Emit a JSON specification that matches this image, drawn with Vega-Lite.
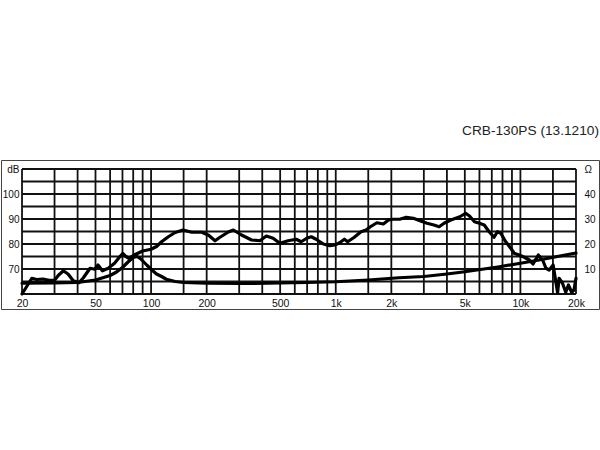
{
  "$schema": "https://vega.github.io/schema/vega-lite/v6.json",
  "width": 598,
  "height": 149,
  "autosize": "none",
  "padding": {"left": 1, "top": 160, "right": 1, "bottom": 141},
  "background": "white",
  "config": {
    "view": {"stroke": "#444", "strokeWidth": 1},
    "font": "Liberation Sans"
  },
  "title": {
    "text": "CRB-130PS (13.1210)",
    "anchor": "end",
    "frame": "group",
    "font": "Liberation Sans",
    "fontSize": 13.7,
    "fontWeight": "normal",
    "color": "#222",
    "baseline": "alphabetic",
    "offset": 11
  },
  "datasets": {
    "vgrid": [
      {"f": 20}, {"f": 30}, {"f": 40}, {"f": 50}, {"f": 60}, {"f": 70}, {"f": 80}, {"f": 90},
      {"f": 100}, {"f": 150}, {"f": 200}, {"f": 300}, {"f": 400}, {"f": 500}, {"f": 600}, {"f": 700}, {"f": 800}, {"f": 900},
      {"f": 1000}, {"f": 1500}, {"f": 2000}, {"f": 3000}, {"f": 4000}, {"f": 5000}, {"f": 6000}, {"f": 7000}, {"f": 8000}, {"f": 9000},
      {"f": 10000}, {"f": 15000}, {"f": 20000}
    ],
    "hgrid": [
      {"db": 60}, {"db": 65}, {"db": 70}, {"db": 75}, {"db": 80}, {"db": 85},
      {"db": 90}, {"db": 95}, {"db": 100}, {"db": 105}, {"db": 110}
    ],
    "spl": [
      {"f": 20, "db": 60}, {"f": 21, "db": 62.5}, {"f": 22.6, "db": 66.3}, {"f": 24, "db": 65.8},
      {"f": 26, "db": 66}, {"f": 28, "db": 65.5}, {"f": 30, "db": 65.5}, {"f": 31.5, "db": 67.5},
      {"f": 33.5, "db": 69.3}, {"f": 35.5, "db": 68}, {"f": 37.9, "db": 65.3}, {"f": 40.7, "db": 64.5},
      {"f": 43, "db": 66.5}, {"f": 46.7, "db": 70.3}, {"f": 49.6, "db": 69.9}, {"f": 51.6, "db": 71.6},
      {"f": 54.5, "db": 69.3}, {"f": 58.6, "db": 70.3}, {"f": 63.4, "db": 72.3}, {"f": 67, "db": 74.5},
      {"f": 70.2, "db": 76.2}, {"f": 73, "db": 75}, {"f": 75.8, "db": 74.3}, {"f": 81, "db": 75.6},
      {"f": 90, "db": 77.2}, {"f": 100, "db": 77.9}, {"f": 107, "db": 79}, {"f": 114, "db": 80.9},
      {"f": 124, "db": 82.9}, {"f": 135, "db": 84.6}, {"f": 149, "db": 85.6}, {"f": 166, "db": 84.7},
      {"f": 188, "db": 84.7}, {"f": 205, "db": 83.5}, {"f": 222, "db": 81.3}, {"f": 235, "db": 82.6},
      {"f": 262, "db": 84.8}, {"f": 279, "db": 85.6}, {"f": 309, "db": 83.6}, {"f": 350, "db": 81.6},
      {"f": 388, "db": 81.3}, {"f": 421, "db": 83.2}, {"f": 458, "db": 82.3}, {"f": 498, "db": 80.3},
      {"f": 552, "db": 81.3}, {"f": 611, "db": 81.9}, {"f": 650, "db": 80.9}, {"f": 696, "db": 82.3},
      {"f": 737, "db": 82.9}, {"f": 783, "db": 81.9}, {"f": 857, "db": 80}, {"f": 929, "db": 79.3},
      {"f": 988, "db": 79.6}, {"f": 1050, "db": 80.5}, {"f": 1114, "db": 81.9}, {"f": 1160, "db": 80.9},
      {"f": 1260, "db": 82.7}, {"f": 1370, "db": 84.9}, {"f": 1460, "db": 85.6}, {"f": 1540, "db": 86.9},
      {"f": 1670, "db": 88.5}, {"f": 1810, "db": 88}, {"f": 1930, "db": 89.6}, {"f": 2030, "db": 89.9},
      {"f": 2220, "db": 89.9}, {"f": 2410, "db": 90.7}, {"f": 2630, "db": 90.3}, {"f": 2860, "db": 89.3},
      {"f": 3120, "db": 88.3}, {"f": 3400, "db": 87.6}, {"f": 3630, "db": 86.9}, {"f": 3860, "db": 88.3},
      {"f": 4200, "db": 89.6}, {"f": 4700, "db": 90.9}, {"f": 5050, "db": 92.3}, {"f": 5300, "db": 91.2},
      {"f": 5640, "db": 88.9}, {"f": 6000, "db": 88.3}, {"f": 6370, "db": 87.6}, {"f": 6770, "db": 84.9},
      {"f": 7200, "db": 82.7}, {"f": 7510, "db": 84.9}, {"f": 7830, "db": 84.3}, {"f": 8330, "db": 80.9},
      {"f": 8870, "db": 78.3}, {"f": 9250, "db": 76.3}, {"f": 9850, "db": 75.6}, {"f": 10500, "db": 74.7},
      {"f": 11180, "db": 73.6}, {"f": 11700, "db": 72}, {"f": 12500, "db": 75.6}, {"f": 13200, "db": 73.6},
      {"f": 13750, "db": 70.3}, {"f": 14320, "db": 69.6}, {"f": 15040, "db": 71.6}, {"f": 15900, "db": 60.5},
      {"f": 16200, "db": 66.3}, {"f": 16900, "db": 64.3}, {"f": 17600, "db": 60.7}, {"f": 18200, "db": 63.6},
      {"f": 18950, "db": 60.7}, {"f": 19500, "db": 61.6}, {"f": 20000, "db": 66.3}
    ],
    "imp": [
      {"f": 20, "ohm": 4.3}, {"f": 30, "ohm": 4.4}, {"f": 40, "ohm": 4.6}, {"f": 50, "ohm": 5.6},
      {"f": 60, "ohm": 7.4}, {"f": 65, "ohm": 8.8}, {"f": 70, "ohm": 10.6}, {"f": 75, "ohm": 12.8},
      {"f": 80, "ohm": 14.6}, {"f": 84, "ohm": 15}, {"f": 88, "ohm": 14}, {"f": 95, "ohm": 11.5},
      {"f": 101, "ohm": 9.6}, {"f": 107, "ohm": 8}, {"f": 114, "ohm": 7}, {"f": 121, "ohm": 5.9},
      {"f": 135, "ohm": 5}, {"f": 150, "ohm": 4.6}, {"f": 200, "ohm": 4.3}, {"f": 300, "ohm": 4.2},
      {"f": 500, "ohm": 4.4}, {"f": 700, "ohm": 4.6}, {"f": 1000, "ohm": 4.9}, {"f": 1500, "ohm": 5.6},
      {"f": 2200, "ohm": 6.5}, {"f": 3000, "ohm": 7.0}, {"f": 4000, "ohm": 8}, {"f": 5000, "ohm": 8.9},
      {"f": 7700, "ohm": 10.9}, {"f": 10000, "ohm": 12.3}, {"f": 12000, "ohm": 13.3}, {"f": 20000, "ohm": 16.4}
    ]
  },
  "layer": [
    {
      "data": {"name": "vgrid"},
      "mark": {"type": "rule", "color": "#111", "strokeWidth": 1.8},
      "encoding": {
        "x": {"field": "f", "type": "quantitative", "scale": {"type": "log", "domain": [15.39, 26646], "nice": false}},
        "y": {"datum": 60, "type": "quantitative", "scale": {"domain": [54, 113.6], "nice": false, "zero": false}, "axis": null},
        "y2": {"datum": 110}
      }
    },
    {
      "data": {"name": "hgrid"},
      "mark": {"type": "rule", "color": "#111", "strokeWidth": 1.8},
      "encoding": {
        "y": {"field": "db", "type": "quantitative", "scale": {"domain": [54, 113.6], "nice": false, "zero": false}, "axis": null},
        "x": {"datum": 20, "type": "quantitative", "scale": {"type": "log", "domain": [15.39, 26646], "nice": false}},
        "x2": {"datum": 20000}
      }
    },
    {
      "data": {"name": "spl"},
      "mark": {"type": "line", "color": "#000", "strokeWidth": 3.2, "strokeJoin": "round", "strokeCap": "round"},
      "encoding": {
        "x": {
          "field": "f", "type": "quantitative",
          "scale": {"type": "log", "domain": [15.39, 26646], "nice": false},
          "axis": {
            "orient": "bottom", "title": null, "grid": false, "domain": false, "ticks": false, "tickSize": 0,
            "values": [20, 50, 100, 200, 500, 1000, 2000, 5000, 10000, 20000],
            "labelExpr": "datum.value >= 1000 ? (datum.value / 1000) + 'k' : datum.value",
            "offset": -6, "labelPadding": 0, "labelBaseline": "middle",
            "labelFont": "Liberation Sans", "labelFontSize": 10.5, "labelColor": "#111",
            "labelFlush": false, "labelOverlap": false, "labelBound": false
          }
        },
        "y": {
          "field": "db", "type": "quantitative",
          "scale": {"domain": [54, 113.6], "nice": false, "zero": false},
          "axis": {
            "orient": "left", "title": null, "grid": false, "domain": false, "ticks": false, "tickSize": 0,
            "values": [70, 80, 90, 100, 110],
            "labelExpr": "datum.value == 110 ? 'dB' : datum.value",
            "offset": -18, "labelPadding": 0, "labelBaseline": "middle",
            "labelFont": "Liberation Sans", "labelFontSize": 10, "labelColor": "#111",
            "labelFlush": false, "labelOverlap": false, "labelBound": false
          }
        }
      }
    },
    {
      "data": {"name": "imp"},
      "mark": {"type": "line", "color": "#000", "strokeWidth": 3.2, "strokeJoin": "round", "strokeCap": "round"},
      "encoding": {
        "x": {"field": "f", "type": "quantitative", "scale": {"type": "log", "domain": [15.39, 26646], "nice": false}},
        "y": {
          "field": "ohm", "type": "quantitative",
          "scale": {"domain": [-6, 53.6], "nice": false, "zero": false},
          "axis": {
            "orient": "right", "title": null, "grid": false, "domain": false, "ticks": false, "tickSize": 0,
            "values": [10, 20, 30, 40, 50],
            "labelExpr": "datum.value == 50 ? 'Ω' : datum.value",
            "offset": -15, "labelPadding": 0, "labelBaseline": "middle",
            "labelFont": "Liberation Sans", "labelFontSize": 10, "labelColor": "#111",
            "labelFlush": false, "labelOverlap": false, "labelBound": false
          }
        }
      }
    }
  ],
  "resolve": {"scale": {"y": "independent"}, "axis": {"y": "independent"}}
}
